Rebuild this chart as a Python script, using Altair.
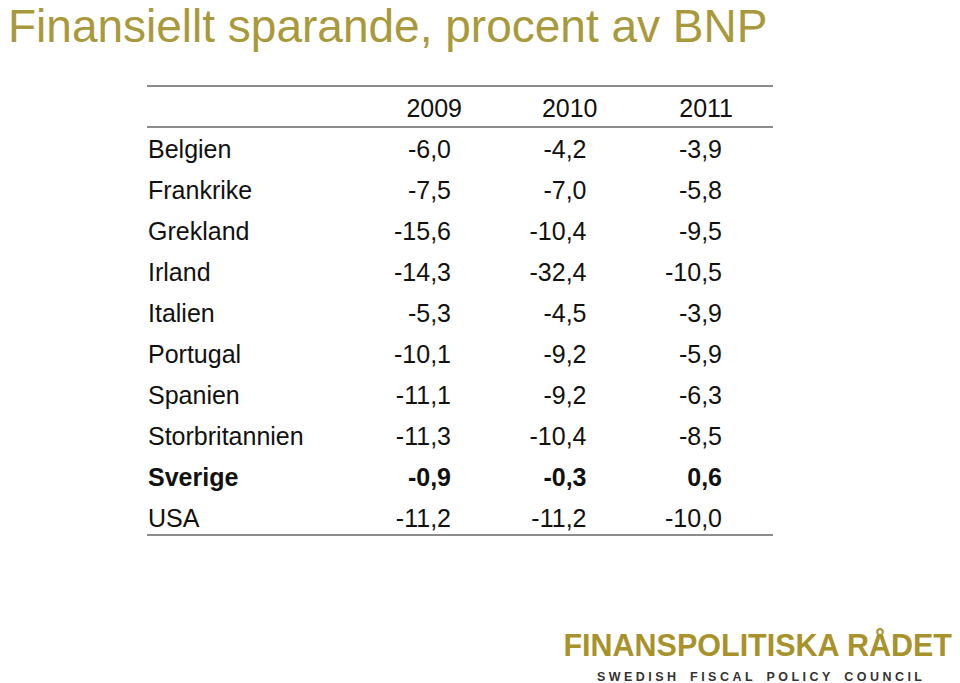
import altair as alt
import pandas as pd

title_text = "Finansiellt sparande, procent av BNP"
years = ["2009", "2010", "2011"]
countries = ["Belgien", "Frankrike", "Grekland", "Irland", "Italien",
             "Portugal", "Spanien", "Storbritannien", "Sverige", "USA"]
v2009 = [-6.0, -7.5, -15.6, -14.3, -5.3, -10.1, -11.1, -11.3, -0.9, -11.2]
v2010 = [-4.2, -7.0, -10.4, -32.4, -4.5, -9.2, -9.2, -10.4, -0.3, -11.2]
v2011 = [-3.9, -5.8, -9.5, -10.5, -3.9, -5.9, -6.3, -8.5, 0.6, -10.0]
highlight = "Sverige"
logo_main = "FINANSPOLITISKA RÅDET"
logo_sub = "SWEDISH FISCAL POLICY COUNCIL"

HEADER = "_header"
rows_all = [HEADER] + countries

FONT = "Liberation Sans"
GOLD_TITLE = "#A89A3C"
GOLD_LOGO = "#A8922C"
INK = "#111111"
RULE = "#666666"
FS = 25


def fmt(v):
    return f"{v:.1f}".replace(".", ",")


cells = []
for yr, vals in zip(years, [v2009, v2010, v2011]):
    for c, v in zip(countries, vals):
        cells.append({"row": c, "year": yr, "label": fmt(v), "bold": c == highlight})
cells_df = pd.DataFrame(cells)
country_df = pd.DataFrame({"row": countries, "label": countries,
                           "bold": [c == highlight for c in countries]})
header_df = pd.DataFrame({"row": [HEADER] * len(years), "year": years, "label": years})

yenc = alt.Y("row:N", scale=alt.Scale(domain=rows_all, range=[109, 519], padding=0), axis=None)
xenc = alt.X("year:N", scale=alt.Scale(domain=years, range=[443, 714], padding=0), axis=None)

base_txt = dict(font=FONT, fontSize=FS, color=INK, baseline="alphabetic")

countries_normal = alt.Chart(country_df).transform_filter("!datum.bold").mark_text(
    align="left", **base_txt).encode(x=alt.value(140), y=yenc, text="label:N")
countries_bold = alt.Chart(country_df).transform_filter("datum.bold").mark_text(
    align="left", fontWeight="bold", **base_txt).encode(x=alt.value(140), y=yenc, text="label:N")

vals_normal = alt.Chart(cells_df).transform_filter("!datum.bold").mark_text(
    align="right", **base_txt).encode(x=xenc, y=yenc, text="label:N")
vals_bold = alt.Chart(cells_df).transform_filter("datum.bold").mark_text(
    align="right", fontWeight="bold", **base_txt).encode(x=xenc, y=yenc, text="label:N")

header = alt.Chart(header_df).mark_text(align="right", dx=11, **base_txt).encode(
    x=xenc, y=yenc, text="label:N")

rule_top = alt.Chart().mark_rule(color=RULE, strokeWidth=1.6).encode(
    x=alt.value(139), x2=alt.value(765), y=alt.value(78))
rule_mid = alt.Chart().mark_rule(color=RULE, strokeWidth=1.6).encode(
    x=alt.value(139), x2=alt.value(765), y=alt.value(119))
rule_bot = alt.Chart().mark_rule(color=RULE, strokeWidth=1.6).encode(
    x=alt.value(139), x2=alt.value(765), y=alt.value(527))

title = alt.Chart(pd.DataFrame({"t": [title_text]})).mark_text(
    align="left", baseline="alphabetic", font=FONT, fontSize=46, color=GOLD_TITLE).encode(
    x=alt.value(0), y=alt.value(34), text="t:N")

logo1 = alt.Chart(pd.DataFrame({"t": [logo_main]})).mark_text(
    align="right", baseline="alphabetic", font=FONT, fontSize=30.5, fontWeight="bold",
    color=GOLD_LOGO).encode(x=alt.value(944), y=alt.value(648), text="t:N")

sub_spaced = "\u00a0\u00a0\u00a0\u00a0".join("\u00a0".join(list(w)) for w in logo_sub.split(" "))
logo2 = alt.Chart(pd.DataFrame({"t": [sub_spaced]})).mark_text(
    align="right", baseline="alphabetic", font=FONT, fontSize=12.5, fontWeight="bold",
    color="#333333").encode(x=alt.value(914), y=alt.value(673), text="t:N")

chart = alt.layer(
    rule_top, rule_mid, rule_bot, title, header,
    countries_normal, countries_bold, vals_normal, vals_bold, logo1, logo2
).properties(
    width=944, height=675, autosize=alt.AutoSizeParams(type="none"), padding=0
).configure_view(stroke=None)

chart.save("out.html", embed_options={"renderer": "svg", "actions": False})
